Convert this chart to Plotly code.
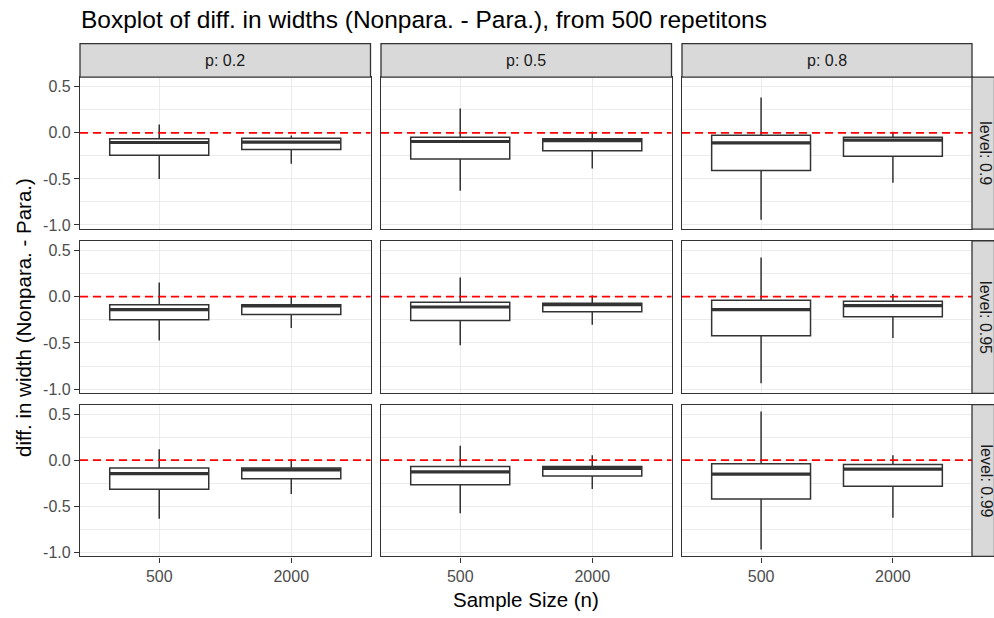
import plotly.graph_objects as go

W, H = 994, 618

sample_sizes = ["500", "2000"]
p_labels = ["p: 0.2", "p: 0.5", "p: 0.8"]
level_labels = ["level: 0.9", "level: 0.95", "level: 0.99"]

# [level][p][sample size]
whisker_low = [
    [[-0.500, -0.336], [-0.628, -0.386], [-0.942, -0.541]],
    [[-0.475, -0.340], [-0.525, -0.304], [-0.935, -0.446]],
    [[-0.637, -0.367], [-0.576, -0.313], [-0.971, -0.626]],
]
q1 = [
    [[-0.242, -0.180], [-0.285, -0.195], [-0.410, -0.253]],
    [[-0.250, -0.192], [-0.257, -0.163], [-0.424, -0.217]],
    [[-0.317, -0.201], [-0.266, -0.173], [-0.421, -0.284]],
]
median = [
    [[-0.105, -0.100], [-0.094, -0.085], [-0.108, -0.079]],
    [[-0.141, -0.101], [-0.112, -0.087], [-0.141, -0.098]],
    [[-0.147, -0.105], [-0.126, -0.090], [-0.151, -0.097]],
]
q3 = [
    [[-0.065, -0.060], [-0.047, -0.065], [-0.025, -0.047]],
    [[-0.087, -0.087], [-0.062, -0.072], [-0.040, -0.051]],
    [[-0.086, -0.086], [-0.068, -0.068], [-0.040, -0.047]],
]
whisker_high = [
    [[0.090, -0.030], [0.264, 0.014], [0.383, 0.011]],
    [[0.152, 0.007], [0.207, 0.014], [0.424, 0.029]],
    [[0.119, 0.011], [0.158, 0.054], [0.529, 0.054]],
]

title_text = "Boxplot of diff. in widths (Nonpara. - Para.), from 500 repetitons"
x_title = "Sample Size (n)"
y_title = "diff. in width (Nonpara. - Para.)"

FONT = "Liberation Sans, Arial, sans-serif"

# pixel layout of panels
col_px = [(80, 370.5), (381, 671.5), (682, 972)]
row_px = [(77.7, 230.7), (242.3, 396), (407.3, 560)]
strip_top = (44, 77.7)
strip_right = (972, 994.5)


def fx(px):
    return px / W


def fy(py):
    return 1 - py / H


fig = go.Figure()
layout = {}
shapes = []
annotations = []

for r in range(3):
    for c in range(3):
        n = r * 3 + c + 1
        xa = "x" if n == 1 else f"x{n}"
        ya = "y" if n == 1 else f"y{n}"
        fig.add_trace(go.Box(
            x=sample_sizes,
            q1=q1[r][c], median=median[r][c], q3=q3[r][c],
            lowerfence=whisker_low[r][c], upperfence=whisker_high[r][c],
            width=0.75, fillcolor="white",
            line=dict(color="#333333", width=1.5),
            whiskerwidth=0, boxpoints=False,
            xaxis=xa, yaxis=ya, showlegend=False, hoverinfo="skip",
        ))
        # thick median line (ggplot fatten)
        fig.add_trace(go.Box(
            x=sample_sizes,
            q1=median[r][c], median=median[r][c], q3=median[r][c],
            lowerfence=median[r][c], upperfence=median[r][c],
            width=0.75, fillcolor="rgba(0,0,0,0)",
            line=dict(color="#333333", width=3.2),
            whiskerwidth=0, boxpoints=False,
            xaxis=xa, yaxis=ya, showlegend=False, hoverinfo="skip",
        ))
        x0p, x1p = col_px[c]
        y0p, y1p = row_px[r]
        bottom = (r == 2)
        left = (c == 0)
        layout["xaxis" if n == 1 else f"xaxis{n}"] = dict(
            domain=[fx(x0p), fx(x1p)], anchor=ya,
            type="category", categoryorder="array", categoryarray=sample_sizes,
            range=[-0.6, 1.6],
            showgrid=True, gridcolor="#ebebeb", gridwidth=1.3,
            showline=True, mirror=True, linecolor="#333333", linewidth=1.3,
            ticks="outside" if bottom else "", ticklen=5, tickwidth=1.3, tickcolor="#333333",
            showticklabels=bottom,
            tickfont=dict(family=FONT, size=16, color="#4d4d4d"),
            zeroline=False, fixedrange=True,
        )
        layout["yaxis" if n == 1 else f"yaxis{n}"] = dict(
            domain=[fy(y1p), fy(y0p)], anchor=xa,
            range=[-1.046, 0.604],
            tickvals=[-1.0, -0.5, 0.0, 0.5], ticktext=["-1.0", "-0.5", "0.0", "0.5"],
            showgrid=True, gridcolor="#ebebeb", gridwidth=1.3,
            minor=dict(tickvals=[-0.75, -0.25, 0.25], showgrid=True,
                       gridcolor="#ebebeb", gridwidth=0.7, ticks=""),
            showline=True, mirror=True, linecolor="#333333", linewidth=1.3,
            ticks="outside" if left else "", ticklen=5, tickwidth=1.3, tickcolor="#333333",
            showticklabels=left,
            tickfont=dict(family=FONT, size=16, color="#4d4d4d"),
            zeroline=False, fixedrange=True,
        )
        shapes.append(dict(
            type="line", xref=f"{xa} domain", yref=ya,
            x0=0, x1=1, y0=0, y1=0,
            line=dict(color="red", width=1.8, dash="8px,5px"), layer="above",
        ))

# top strips
for c in range(3):
    x0p, x1p = col_px[c]
    shapes.append(dict(type="rect", xref="paper", yref="paper",
                       x0=fx(x0p), x1=fx(x1p), y0=fy(strip_top[1]), y1=fy(strip_top[0]),
                       fillcolor="#d9d9d9", line=dict(color="#333333", width=1.3)))
    annotations.append(dict(text=p_labels[c], xref="paper", yref="paper",
                            x=fx((x0p + x1p) / 2), y=fy((strip_top[0] + strip_top[1]) / 2),
                            showarrow=False, xanchor="center", yanchor="middle",
                            font=dict(family=FONT, size=16, color="#1a1a1a")))
# right strips
for r in range(3):
    y0p, y1p = row_px[r]
    shapes.append(dict(type="rect", xref="paper", yref="paper",
                       x0=fx(strip_right[0]), x1=fx(strip_right[1]), y0=fy(y1p), y1=fy(y0p),
                       fillcolor="#d9d9d9", line=dict(color="#333333", width=1.3)))
    annotations.append(dict(text=level_labels[r], xref="paper", yref="paper",
                            x=fx(986), y=fy((y0p + y1p) / 2), textangle=90,
                            showarrow=False, xanchor="center", yanchor="middle",
                            font=dict(family=FONT, size=16, color="#1a1a1a")))

annotations.append(dict(text=title_text, xref="paper", yref="paper",
                        x=fx(79), y=fy(20), xanchor="left", yanchor="middle",
                        showarrow=False, font=dict(family=FONT, size=24.5, color="black")))
annotations.append(dict(text=x_title, xref="paper", yref="paper",
                        x=fx(526), y=fy(603), xanchor="center", yanchor="middle",
                        showarrow=False, font=dict(family=FONT, size=20.5, color="black")))
annotations.append(dict(text=y_title, xref="paper", yref="paper",
                        x=fx(24), y=fy(320), xanchor="center", yanchor="middle", textangle=-90,
                        showarrow=False, font=dict(family=FONT, size=20.5, color="black")))

fig.update_layout(
    width=W, height=H,
    margin=dict(l=0, r=0, t=0, b=0),
    paper_bgcolor="white", plot_bgcolor="white",
    boxmode="overlay",
    shapes=shapes, annotations=annotations,
    **layout,
)

fig.write_html("out.html")
